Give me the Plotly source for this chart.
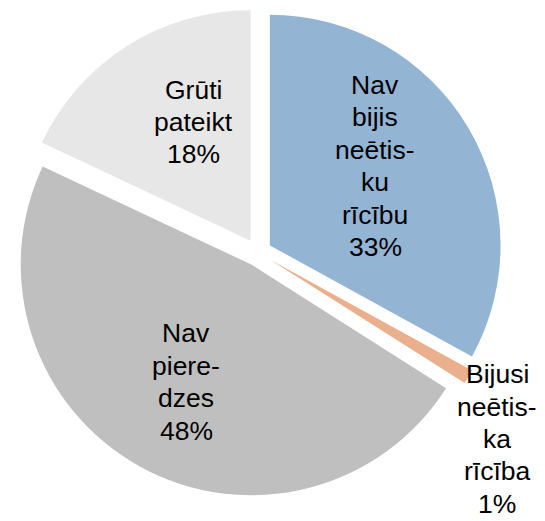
import plotly.graph_objects as go

# Data
categories = ["Nav bijis neētisku rīcību",
              "Bijusi neētiska rīcība",
              "Nav pieredzes",
              "Grūti pateikt"]
# how each category is wrapped inside its label
label_lines = [["Nav", "bijis", "neētis-", "ku", "rīcību"],
               ["Bijusi", "neētis-", "ka", "rīcība"],
               ["Nav", "piere-", "dzes"],
               ["Grūti", "pateikt"]]
values = [33, 1, 48, 18]
colors = ["#94B4D4", "#EAB08E", "#BFBFBF", "#E8E7E7"]
pulls = [0.06, 0.06, 0.06, 0.06]

# label block centres (figure pixels from top-left)
label_px = [(367, 158), (489, 431), (178, 374), (185, 114)]
LINE_GAP = 32.4

W, H = 545, 521
FONT = "Liberation Sans, Arial, sans-serif"
FS = 26.5

fig = go.Figure(go.Pie(
    labels=categories,
    values=values,
    sort=False,
    direction="clockwise",
    rotation=0,
    pull=pulls,
    marker=dict(colors=colors, line=dict(width=0)),
    textinfo="none",
    domain=dict(x=[0.0075, 0.9099], y=[0.0616, 1.0]),
    hoverinfo="skip",
    showlegend=False,
))

total = sum(values)
for lines, val, (px, py) in zip(label_lines, values, label_px):
    all_lines = lines + [f"{val / total:.0%}"]
    n = len(all_lines)
    for i, line in enumerate(all_lines):
        ly = py + (i - (n - 1) / 2) * LINE_GAP
        fig.add_annotation(
            text=line,
            x=px / W, y=1 - ly / H, xref="paper", yref="paper",
            xanchor="center", yanchor="middle",
            showarrow=False, align="center",
            font=dict(family=FONT, size=FS, color="#000000"),
        )

fig.update_layout(
    width=W, height=H,
    margin=dict(l=0, r=0, t=0, b=0),
    paper_bgcolor="white",
    plot_bgcolor="white",
    font=dict(family=FONT),
)

fig.write_html("out.html")
